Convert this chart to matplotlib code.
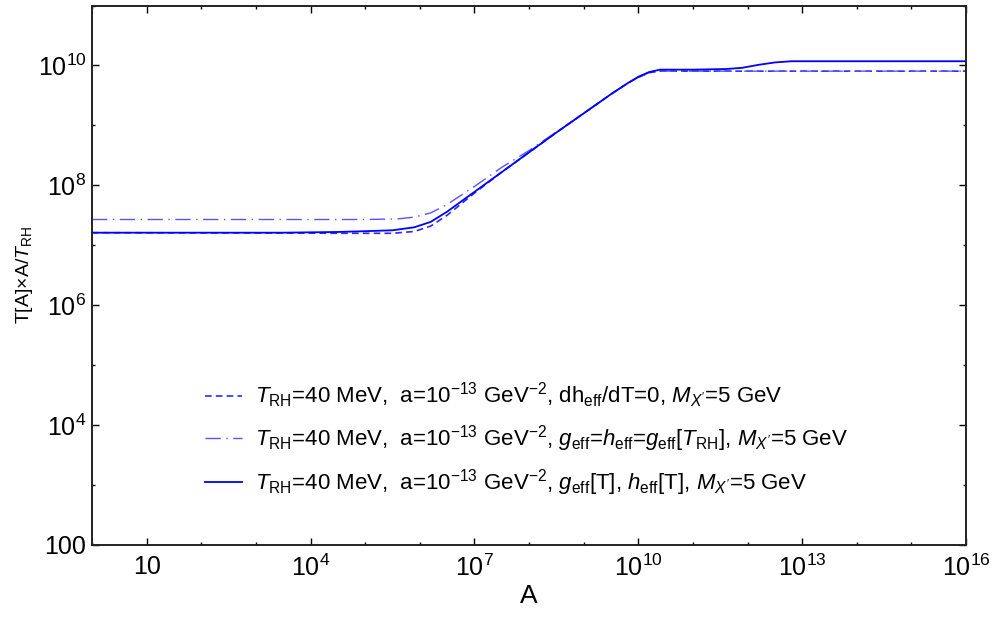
import numpy as np
import matplotlib.pyplot as plt
from matplotlib.ticker import FixedLocator, NullFormatter

plt.rcParams['font.family'] = ['Liberation Sans', 'DejaVu Sans']
plt.rcParams['mathtext.fontset'] = 'custom'
plt.rcParams['mathtext.rm'] = 'Liberation Sans'
plt.rcParams['mathtext.it'] = 'Liberation Sans:italic'

# log10(A) and log10(T*A/T_RH)
logA_full = [0, 3.5, 4.5, 5.0, 5.5, 5.9, 6.2, 6.5, 7.0, 7.5, 8.0, 8.5, 9.0, 9.5, 9.8,
             10.0, 10.2, 10.4, 11.0, 11.6, 11.9, 12.2, 12.5, 12.8, 13.5, 16]
logV_full = [7.21, 7.21, 7.222, 7.235, 7.25, 7.30, 7.39, 7.56, 7.89, 8.22, 8.55, 8.88, 9.2,
             9.52, 9.70, 9.81, 9.89, 9.93, 9.93, 9.94, 9.96, 10.01, 10.05, 10.07, 10.07, 10.07]

logA_dh0 = [0, 3.5, 4.5, 5.5, 5.9, 6.2, 6.5, 7.0, 7.5, 8.0, 8.5, 9.0, 9.5, 9.8,
            10.0, 10.2, 10.4, 16]
logV_dh0 = [7.21, 7.205, 7.20, 7.20, 7.23, 7.32, 7.50, 7.87, 8.22, 8.55, 8.88, 9.2,
            9.52, 9.70, 9.80, 9.88, 9.905, 9.905]

logA_const = [0, 5.0, 5.6, 5.9, 6.2, 6.5, 7.0, 7.5, 8.0, 8.5, 9.0, 9.5, 9.8,
              10.0, 10.2, 10.4, 16]
logV_const = [7.43, 7.43, 7.44, 7.47, 7.54, 7.68, 7.98, 8.30, 8.58, 8.89, 9.2, 9.52, 9.70,
              9.80, 9.88, 9.905, 9.905]

lab_head = r'$T_{\mathrm{RH}}$=40 MeV,  a=10$^{-13}$ GeV$^{-2}$, '
labels = [lab_head + r'dh$_{\mathrm{eff}}$/dT=0, $M_{X^{\prime}}$=5 GeV',
          lab_head + r'$g_{\mathrm{eff}}$=$h_{\mathrm{eff}}$=$g_{\mathrm{eff}}$[$T_{\mathrm{RH}}$], $M_{X^{\prime}}$=5 GeV',
          lab_head + r'$g_{\mathrm{eff}}$[T], $h_{\mathrm{eff}}$[T], $M_{X^{\prime}}$=5 GeV']

fig = plt.figure(figsize=(9.96, 6.21), dpi=100)
ax = fig.add_axes([92/996, 1-545/621, (966-92)/996, (545-5.5)/621])

ax.plot(10**np.array(logA_dh0), 10**np.array(logV_dh0), color='#2a2aff', lw=1.2,
        dashes=(4, 2.5), label=labels[0])
ax.plot(10**np.array(logA_const), 10**np.array(logV_const), color='#5555ff', lw=1.0,
        dashes=(11, 4, 1, 4), label=labels[1])
ax.plot(10**np.array(logA_full), 10**np.array(logV_full), color='#0000ff', lw=1.3,
        label=labels[2])

ax.set_xscale('log')
ax.set_yscale('log')
ax.set_xlim(1, 1e16)
ax.set_ylim(1e2, 1e11)

ax.xaxis.set_major_locator(FixedLocator([10.0**k for k in range(1, 17, 3)]))
ax.xaxis.set_minor_locator(FixedLocator([10.0**k for k in range(0, 17) if (k - 1) % 3 != 0]))
ax.set_xticklabels(['10'] + [r'$10^{%d}$' % k for k in range(4, 17, 3)])
ax.yaxis.set_major_locator(FixedLocator([10.0**k for k in range(2, 12, 2)]))
ax.yaxis.set_minor_locator(FixedLocator([10.0**k for k in range(3, 12, 2)]))
ax.set_yticklabels(['100'] + [r'$10^{%d}$' % k for k in range(4, 12, 2)])
ax.xaxis.set_minor_formatter(NullFormatter())
ax.yaxis.set_minor_formatter(NullFormatter())

ax.tick_params(which='both', direction='in', top=True, right=True, labelsize=18, width=1)
ax.tick_params(which='major', length=5)
ax.tick_params(which='minor', length=2.5)
ax.tick_params(axis='x', pad=7)
ax.tick_params(axis='y', pad=4)
for s in ax.spines.values():
    s.set_linewidth(1.4)
    s.set_color('#222222')

ax.set_xlabel('A', fontsize=19, labelpad=2)
ax.set_ylabel(r'T[A]×A/$T_{\mathrm{RH}}$', fontsize=14, labelpad=2)

ax.legend(loc='upper left', bbox_to_anchor=(205/996, 1-381/621), bbox_transform=fig.transFigure,
          frameon=False, fontsize=16, handlelength=1.65, handletextpad=0.6, labelspacing=0.58,
          borderpad=0, borderaxespad=0)

fig.savefig('out.png', dpi=100)
